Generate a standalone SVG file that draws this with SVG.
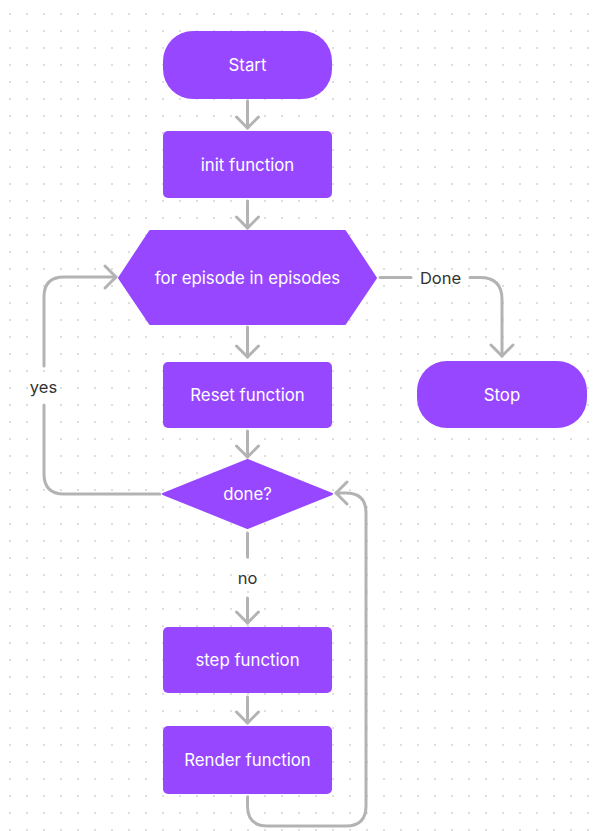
<svg xmlns="http://www.w3.org/2000/svg" width="595" height="831" viewBox="0 0 595 831">
  <style>
    .node { fill: #9747ff; }
    .label { fill: #ffffff; font-family: Inter, "Noto Sans", "Liberation Sans", sans-serif; font-size: 16.8px; text-anchor: middle; dominant-baseline: central; }
    .edge-label { fill: #333333; font-family: Inter, "Noto Sans", "Liberation Sans", sans-serif; font-size: 16.5px; text-anchor: middle; dominant-baseline: central; }
    .edge { fill: none; stroke: #b3b3b3; stroke-width: 3; stroke-linecap: round; stroke-linejoin: round; }
  </style>
  <defs>
    <pattern id="dots" width="17" height="17" patternUnits="userSpaceOnUse">
      <rect x="9" y="13" width="2" height="2" fill="#dedede"/>
    </pattern>
    <marker id="arrow" markerUnits="userSpaceOnUse" viewBox="-15 -15 30 30" markerWidth="30" markerHeight="30" refX="0" refY="0" orient="auto">
      <path d="M-11,-11 L0,0 L-11,11" fill="none" stroke="#b3b3b3" stroke-width="3" stroke-linecap="round" stroke-linejoin="round"/>
    </marker>
  </defs>

  <rect width="595" height="831" fill="#ffffff"/>
  <rect width="595" height="831" fill="url(#dots)"/>

  <g id="connectors">
    <path class="edge" d="M247.5,101 V128" marker-end="url(#arrow)"/>
    <path class="edge" d="M247.5,201 V228" marker-end="url(#arrow)"/>
    <path class="edge" d="M247.5,327 V357" marker-end="url(#arrow)"/>
    <path class="edge" d="M247.5,431 V457" marker-end="url(#arrow)"/>
    <path class="edge" d="M247.5,533 V557"/>
    <path class="edge" d="M247.5,598 V623" marker-end="url(#arrow)"/>
    <path class="edge" d="M247.5,697 V723" marker-end="url(#arrow)"/>
    <!-- Done -> Stop -->
    <path class="edge" d="M380,277.5 H411"/>
    <path class="edge" d="M470,277.5 H480 Q502,277.5 502,299.5 V356" marker-end="url(#arrow)"/>
    <!-- yes: loop back to the episode loop -->
    <path class="edge" d="M160,494 H64 Q44,494 44,474 V405"/>
    <path class="edge" d="M44,366 V297 Q44,277 64,277 H116" marker-end="url(#arrow)"/>
    <!-- render returns to the done? check -->
    <path class="edge" d="M247.5,797 V806 Q247.5,826 267.5,826 H346 Q366,826 366,806 V513 Q366,493 346,493 H336" marker-end="url(#arrow)"/>
    <text class="edge-label" x="440.5" y="277.5">Done</text>
    <text class="edge-label" x="43.5" y="386.5">yes</text>
    <text class="edge-label" x="247.5" y="577.5">no</text>
  </g>

  <g id="start">
    <rect class="node" x="163" y="31" width="169" height="68" rx="30"/>
    <text class="label" x="247.5" y="65">Start</text>
  </g>
  <g id="init">
    <rect class="node" x="163" y="131" width="169" height="67" rx="5"/>
    <text class="label" x="247.5" y="164.5">init function</text>
  </g>
  <g id="episodes">
    <path class="node" d="M119,278 L150,231 H345 L376,278 L345,324 H150 Z" stroke="#9747ff" stroke-width="2" stroke-linejoin="round"/>
    <text class="label" x="247.5" y="277.5">for episode in episodes</text>
  </g>
  <g id="reset">
    <rect class="node" x="163" y="362" width="169" height="66" rx="5"/>
    <text class="label" x="247.5" y="395">Reset function</text>
  </g>
  <g id="done">
    <path class="node" d="M163,494 L247.5,460 L332,494 L247.5,528 Z" stroke="#9747ff" stroke-width="2" stroke-linejoin="round"/>
    <text class="label" x="247.5" y="494">done?</text>
  </g>
  <g id="step">
    <rect class="node" x="163" y="627" width="169" height="66" rx="5"/>
    <text class="label" x="247.5" y="660">step function</text>
  </g>
  <g id="render">
    <rect class="node" x="163" y="726" width="169" height="68" rx="5"/>
    <text class="label" x="247.5" y="760">Render function</text>
  </g>
  <g id="stop">
    <rect class="node" x="417" y="361" width="170" height="67" rx="30"/>
    <text class="label" x="502" y="394.5">Stop</text>
  </g>
</svg>
